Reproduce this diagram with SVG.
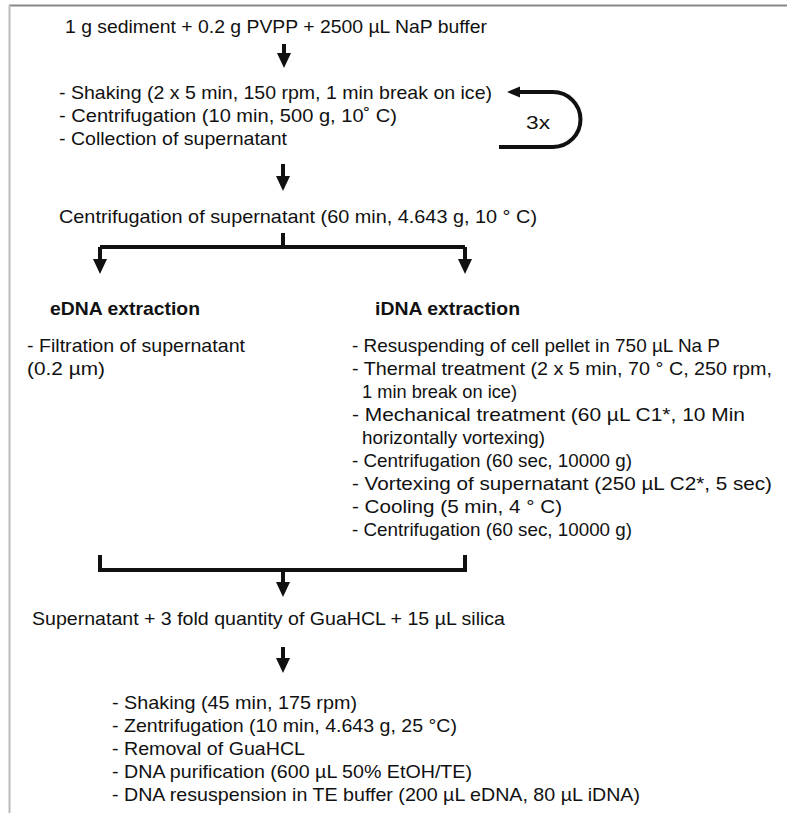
<svg xmlns="http://www.w3.org/2000/svg" width="787" height="813" viewBox="0 0 787 813">
<style>
text{font-family:"Liberation Sans",Arial,sans-serif;font-size:18.5px;fill:#111}
.b{font-weight:bold}
.c{fill:none;stroke:#111;stroke-width:4}
.br{fill:none;stroke:#111;stroke-width:4}
</style>
<defs>
<marker id="ah" markerUnits="userSpaceOnUse" markerWidth="16" markerHeight="15" refX="3" refY="7" orient="auto">
<path d="M0,0 L15,7 L0,14 z" fill="#111"/>
</marker>
<marker id="ahs" markerUnits="userSpaceOnUse" markerWidth="14" markerHeight="12" refX="3" refY="5.5" orient="auto">
<path d="M0,0 L13,5.5 L0,11 z" fill="#111"/>
</marker>
</defs>
<rect width="787" height="813" fill="#fff"/>
<line x1="9" y1="5.5" x2="787" y2="5.5" stroke="#888" stroke-width="2"/>
<line x1="9.5" y1="5" x2="9.5" y2="813" stroke="#bbb" stroke-width="2"/>

<g id="connectors">
<line class="c" x1="284" y1="44" x2="284" y2="56" marker-end="url(#ah)"/>
<path class="c" d="M499,147 L553,147 A27.5,27.5 0 0 0 553,92 L517,92" marker-end="url(#ahs)"/>
<line class="c" x1="283" y1="164" x2="283" y2="179" marker-end="url(#ah)"/>
<path class="br" d="M283,233 L283,247 M100,247 L465,247"/>
<line class="c" x1="100" y1="247" x2="100" y2="262" marker-end="url(#ah)"/>
<line class="c" x1="465" y1="247" x2="465" y2="262" marker-end="url(#ah)"/>
<path class="br" d="M100,555 L100,570 L465,570 L465,555"/>
<line class="c" x1="283" y1="570" x2="283" y2="585" marker-end="url(#ah)"/>
<line class="c" x1="283" y1="647" x2="283" y2="661" marker-end="url(#ah)"/>
</g>

<g id="start"><text x="65" y="33" textLength="422" lengthAdjust="spacingAndGlyphs">1 g sediment + 0.2 g PVPP + 2500 µL NaP buffer</text></g>

<g id="wash">
<text x="59" y="99" textLength="433" lengthAdjust="spacingAndGlyphs">- Shaking (2 x 5 min, 150 rpm, 1 min break on ice)</text>
<text x="59" y="122" textLength="338" lengthAdjust="spacingAndGlyphs">- Centrifugation  (10 min, 500 g, 10˚  C)</text>
<text x="59" y="145" textLength="228" lengthAdjust="spacingAndGlyphs">- Collection  of supernatant</text>
</g>

<g id="loop-label"><text x="526" y="129" textLength="24" lengthAdjust="spacingAndGlyphs">3x</text></g>

<g id="centrifugation"><text x="59" y="223" textLength="478" lengthAdjust="spacingAndGlyphs">Centrifugation  of supernatant (60 min, 4.643 g, 10 °  C)</text></g>

<g id="edna">
<text class="b" x="50" y="315" textLength="150" lengthAdjust="spacingAndGlyphs">eDNA extraction</text>
<text x="27" y="352" textLength="218" lengthAdjust="spacingAndGlyphs">- Filtration of supernatant</text>
<text x="27" y="375" textLength="78" lengthAdjust="spacingAndGlyphs">(0.2 µm)</text>
</g>

<g id="idna">
<text class="b" x="375" y="315" textLength="145" lengthAdjust="spacingAndGlyphs">iDNA extraction</text>
<text x="352" y="352" textLength="368" lengthAdjust="spacingAndGlyphs">- Resuspending of cell pellet in 750 µL Na P</text>
<text x="352" y="375" textLength="420" lengthAdjust="spacingAndGlyphs">- Thermal treatment (2 x 5 min, 70 °  C, 250 rpm,</text>
<text x="362" y="398" textLength="155" lengthAdjust="spacingAndGlyphs">1 min break on ice)</text>
<text x="352" y="421" textLength="393" lengthAdjust="spacingAndGlyphs">- Mechanical treatment (60 µL C1*, 10 Min</text>
<text x="362" y="444" textLength="183" lengthAdjust="spacingAndGlyphs">horizontally vortexing)</text>
<text x="352" y="467" textLength="280" lengthAdjust="spacingAndGlyphs">- Centrifugation  (60 sec, 10000 g)</text>
<text x="352" y="490" textLength="420" lengthAdjust="spacingAndGlyphs">- Vortexing of supernatant (250 µL C2*, 5 sec)</text>
<text x="352" y="513" textLength="210" lengthAdjust="spacingAndGlyphs">- Cooling (5 min, 4 °  C)</text>
<text x="352" y="536" textLength="280" lengthAdjust="spacingAndGlyphs">- Centrifugation  (60 sec, 10000 g)</text>
</g>

<g id="binding"><text x="32" y="625" textLength="473" lengthAdjust="spacingAndGlyphs">Supernatant + 3 fold quantity of GuaHCL + 15 µL silica</text></g>

<g id="purification">
<text x="112" y="709" textLength="245" lengthAdjust="spacingAndGlyphs">- Shaking (45 min, 175 rpm)</text>
<text x="112" y="732" textLength="345" lengthAdjust="spacingAndGlyphs">- Zentrifugation  (10 min, 4.643 g, 25 °C)</text>
<text x="112" y="755" textLength="193" lengthAdjust="spacingAndGlyphs">- Removal  of GuaHCL</text>
<text x="112" y="778" textLength="360" lengthAdjust="spacingAndGlyphs">- DNA purification (600 µL 50% EtOH/TE)</text>
<text x="112" y="801" textLength="528" lengthAdjust="spacingAndGlyphs">- DNA resuspension in TE buffer (200 µL eDNA, 80 µL iDNA)</text>
</g>
</svg>
